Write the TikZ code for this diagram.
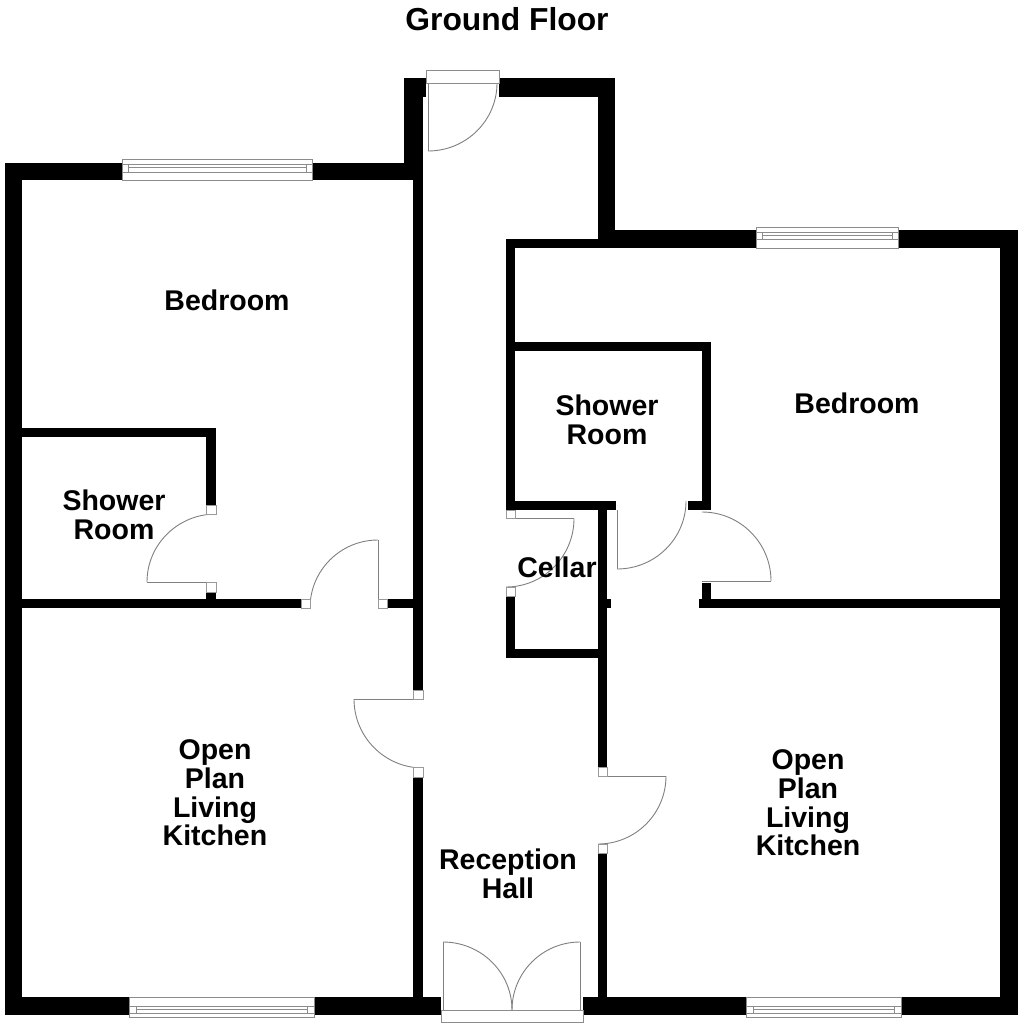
\documentclass[tikz,border=0pt]{standalone}
\usepackage{fontspec}
\setmainfont{Liberation Sans}
\newcommand\leafarc[6]{%
  \draw[leaf] (#3,#4) .. controls ({#3+0.5523*(#5-#1)},{#4+0.5523*(#6-#2)}) and ({#5+0.5523*(#3-#1)},{#6+0.5523*(#4-#2)}) .. (#5,#6);}
\newcommand\winframe[8]{% x0 x1 y0 y1 la lb lc inset
  \draw[frame] (#1,#3) rectangle (#2,#4);
  \draw[frame] (#1,#5) -- (#2,#5) (#1,#7) -- (#2,#7);
  \draw[frame] ({#1+#8},#5) -- ({#1+#8},#7) ({#2-#8},#5) -- ({#2-#8},#7) ({#1+#8},#6) -- ({#2-#8},#6);}
\tikzset{
  wall/.style={fill=black},
  leaf/.style={draw=black!50,line width=0.9pt},
  frame/.style={draw=black!45,line width=1pt,fill=white},
  jamb/.style={draw=black!40,line width=0.8pt,fill=white},
  room/.style={font=\fontsize{28.5}{28.7}\selectfont\bfseries,align=center,inner sep=0pt,text=black},
  heading/.style={font=\fontsize{31.8}{32}\selectfont\bfseries,inner sep=0pt,text=black}
}
\begin{document}
\begin{tikzpicture}[x=1pt,y=-1pt]
\useasboundingbox (0,0) rectangle (1024,1025);
\fill[white] (0,0) rectangle (1024,1025);
% outer walls
\fill[wall] (5,163) rectangle (22,1015);
\fill[wall] (5,163) rectangle (122,180);
\fill[wall] (312,163) rectangle (413,180);
\fill[wall] (404,78) rectangle (423,180);
\fill[wall] (404,78) rectangle (426,97);
\fill[wall] (499,78) rectangle (615,97);
\fill[wall] (598,78) rectangle (615,248);
\fill[wall] (506,239) rectangle (756,248);
\fill[wall] (615,230) rectangle (756,248);
\fill[wall] (898,230) rectangle (1018,248);
\fill[wall] (1000,230) rectangle (1018,1015);
\fill[wall] (5,997) rectangle (129,1015);
\fill[wall] (314,997) rectangle (441,1015);
\fill[wall] (583,997) rectangle (746,1015);
\fill[wall] (901,997) rectangle (1018,1015);
% inner walls, left
\fill[wall] (413,180) rectangle (423,690);
\fill[wall] (413,777) rectangle (423,997);
\fill[wall] (22,599) rectangle (301,608);
\fill[wall] (387,599) rectangle (413,608);
\fill[wall] (22,428) rectangle (216,437);
\fill[wall] (206,428) rectangle (216,505);
\fill[wall] (206,592) rectangle (216,599);
% inner walls, right
\fill[wall] (506,239) rectangle (515,510);
\fill[wall] (506,342) rectangle (711,351);
\fill[wall] (702,342) rectangle (711,510);
\fill[wall] (688,501) rectangle (711,510);
\fill[wall] (506,501) rectangle (616,510);
\fill[wall] (598,510) rectangle (607,767);
\fill[wall] (607,599) rectangle (611,608);
\fill[wall] (598,853) rectangle (607,997);
\fill[wall] (506,596) rectangle (515,658);
\fill[wall] (506,649) rectangle (598,658);
\fill[wall] (702,583) rectangle (711,599);
\fill[wall] (699,599) rectangle (1000,608);
% door leaves and swings
\draw[leaf] (428,83) -- (428,151);
\leafarc{428}{83}{428}{151}{497}{83}
\draw[leaf] (216,582) -- (147,582);
\leafarc{216}{582}{147}{582}{216}{514}
\draw[leaf] (378,608) -- (378,540);
\leafarc{378}{608}{378}{540}{310}{608}
\draw[leaf] (423,699) -- (354,699);
\leafarc{423}{699}{354}{699}{423}{768}
\draw[leaf] (506,518.5) -- (574,518.5);
\leafarc{506}{518.5}{574}{518.5}{506}{587}
\draw[leaf] (617,510) -- (617,569);
\leafarc{617}{501}{617}{569}{686}{501}
\draw[leaf] (702,581) -- (771,581);
\leafarc{702}{581}{771}{581}{702}{512}
\draw[leaf] (598,776) -- (666,776);
\leafarc{598}{776}{666}{776}{598}{844}
\draw[leaf] (443,1010) -- (443,942);
\leafarc{443}{1010}{443}{942}{512}{1010}
\draw[leaf] (580,1010) -- (580,942);
\leafarc{580}{1010}{580}{942}{512}{1010}
% door jambs
\draw[jamb] (206,505) rectangle (216,514);
\draw[jamb] (206,582) rectangle (216,592);
\draw[jamb] (301,599) rectangle (310,608);
\draw[jamb] (378,599) rectangle (387,608);
\draw[jamb] (413,690) rectangle (423,699);
\draw[jamb] (413,767) rectangle (423,777);
\draw[jamb] (506,510) rectangle (515,518.5);
\draw[jamb] (506,587) rectangle (515,596);
\draw[jamb] (598,767) rectangle (607,776);
\draw[jamb] (598,844) rectangle (607,853);
% door frames
\draw[frame] (426,71) rectangle (499,83);
\draw[frame] (441,1010) rectangle (583,1022);
% windows
\winframe{122}{312}{159}{180}{164}{167}{172}{6}
\winframe{756}{898}{227}{248}{232}{235}{239}{6}
\winframe{129}{314}{997}{1017}{1006}{1009.5}{1013}{7}
\winframe{746}{901}{997}{1017}{1006}{1009.5}{1013}{7}
% labels
\node[heading] (title) at (507,19) {Ground Floor};
\node[room] (bedl) at (227,300.5) {Bedroom};
\node[room] (showl) at (114,514.5) {Shower\\Room};
\node[room] (livel) at (215,793) {Open\\Plan\\Living\\Kitchen};
\node[room] (bedr) at (857,403) {Bedroom};
\node[room] (showr) at (607,420) {Shower\\Room};
\node[room] (cellar) at (557,567.5) {Cellar};
\node[room] (liver) at (808,803) {Open\\Plan\\Living\\Kitchen};
\node[room] (hall) at (508,874) {Reception\\Hall};
\end{tikzpicture}
\end{document}
